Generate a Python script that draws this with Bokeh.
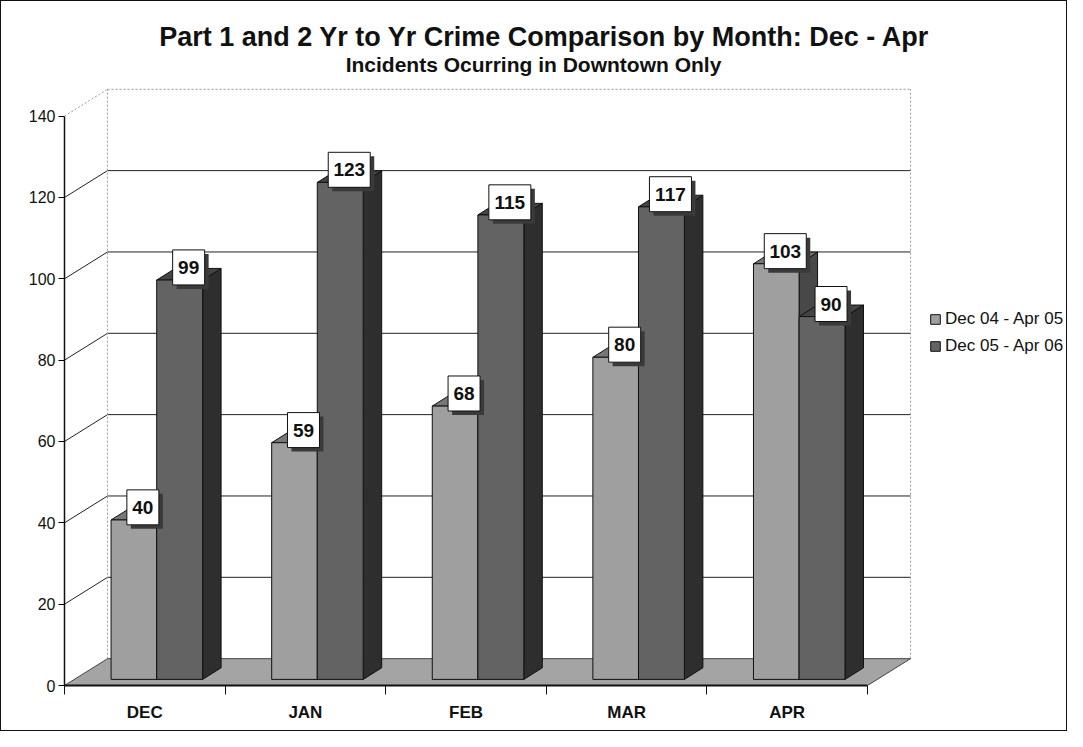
from bokeh.plotting import figure
from bokeh.models import FixedTicker, Legend, LegendItem, ColumnDataSource, Range1d
from bokeh.embed import file_html
from bokeh.resources import INLINE
from bokeh.core.properties import value

# ---- data ----
months = ["DEC", "JAN", "FEB", "MAR", "APR"]
series_names = ["Dec 04 - Apr 05", "Dec 05 - Apr 06"]
prev_year = [40, 59, 68, 80, 103]
curr_year = [99, 123, 115, 117, 90]
y_ticks = [0, 20, 40, 60, 80, 100, 120, 140]
title_text = "Part 1 and 2 Yr to Yr Crime Comparison by Month:  Dec - Apr"
subtitle_text = "Incidents Ocurring in Downtown Only"

# ---- style / geometry constants ----
FONT = "Liberation Sans"
W, H = 1067, 731
LEFT, BOTTOM, RIGHT = 63, 47, 2
PXX = 160.6                      # px per category
PXY = 4.067                      # px per incident
FRAME_W = W - LEFT - RIGHT
FRAME_H = H - BOTTOM
XMAX = FRAME_W / PXX
YMAX = FRAME_H / PXY
DX, DY = 0.268, 6.6              # depth of the 3D box (x units, y units)
BDX, BDY = 0.115, 2.85           # depth of a bar
BASE, TOPOFF = 1.5, 0.7
L_OFF, M_OFF, R_OFF = -0.21, 0.074, 0.36
LIGHT, LIGHT_TOP, LIGHT_SIDE = "#9f9f9f", "#777777", "#484848"
DARK, DARK_TOP, DARK_SIDE = "#636363", "#444444", "#2e2e2e"
FLOOR = "#a4a4a4"
INK = "#111111"
n = len(months)

p = figure(width=W, height=H, output_backend="svg", toolbar_location=None,
           x_range=Range1d(0, XMAX), y_range=Range1d(0, YMAX),
           min_border_left=LEFT, min_border_right=RIGHT, min_border_top=0,
           min_border_bottom=BOTTOM)
p.styles = {"border": "1px solid #111"}
p.outline_line_color = None
p.xgrid.visible = False
p.ygrid.visible = False
p.background_fill_color = "white"

# ---- back wall, side gridlines ----
wall_right = n + DX
grid_vals = [v for v in y_ticks if 0 < v < max(y_ticks)]
p.segment(x0=[DX] * len(grid_vals), y0=[v + DY for v in grid_vals],
          x1=[wall_right] * len(grid_vals), y1=[v + DY for v in grid_vals],
          line_color="#222222", line_width=1)
p.segment(x0=[0] * len(grid_vals), y0=grid_vals,
          x1=[DX] * len(grid_vals), y1=[v + DY for v in grid_vals],
          line_color="#222222", line_width=1)
top = max(y_ticks)
p.segment(x0=[0, DX, DX, wall_right], y0=[top, top + DY, DY, DY],
          x1=[DX, wall_right, DX, wall_right], y1=[top + DY, top + DY, top + DY, top + DY],
          line_color="#9a9a9a", line_width=1, line_dash="2 2")

# ---- floor ----
p.patch(x=[0, n, n + DX, DX], y=[0, 0, DY, DY], fill_color=FLOOR,
        line_color="#444444", line_width=1)

# ---- bars ----
centers = [i + 0.5 for i in range(n)]

def bar_geom(vals, loff, roff):
    l = [c + loff for c in centers]
    r = [c + roff for c in centers]
    t = [v + TOPOFF for v in vals]
    b = [BASE] * len(vals)
    tops_x = [[a, z, z + BDX, a + BDX] for a, z in zip(l, r)]
    tops_y = [[tt, tt, tt + BDY, tt + BDY] for tt in t]
    side_x = [[z, z + BDX, z + BDX, z] for z in r]
    side_y = [[bb, bb + BDY, tt + BDY, tt] for bb, tt in zip(b, t)]
    return l, r, t, b, tops_x, tops_y, side_x, side_y

renderers = []
for vals, loff, roff, cf, ct, cs in [(prev_year, L_OFF, M_OFF, LIGHT, LIGHT_TOP, LIGHT_SIDE),
                                      (curr_year, M_OFF, R_OFF, DARK, DARK_TOP, DARK_SIDE)]:
    l, r, t, b, tx, ty, sx, sy = bar_geom(vals, loff, roff)
    p.patches(xs=sx, ys=sy, fill_color=cs, line_color=INK, line_width=1)
    p.patches(xs=tx, ys=ty, fill_color=ct, line_color=INK, line_width=1)
    rr = p.quad(left=l, right=r, top=t, bottom=b, fill_color=cf,
                line_color=INK, line_width=1)
    renderers.append(rr)

# ---- value labels ----
lab_x, lab_y, lab_t, lab_w = [], [], [], []
for vals, loff, roff in [(prev_year, L_OFF, M_OFF), (curr_year, M_OFF, R_OFF)]:
    for c, v in zip(centers, vals):
        lab_x.append(c + (loff + roff) / 2 + 0.056)
        lab_y.append(v + TOPOFF + 3.1)
        lab_t.append(str(v))
        lab_w.append(12 + 10 * len(str(v)))
src = ColumnDataSource(dict(x=lab_x, y=lab_y, t=lab_t, w=lab_w,
                            sx=[x + 4 / PXX for x in lab_x],
                            sy=[y - 4 / PXY for y in lab_y]))
p.rect(x="sx", y="sy", width="w", height=35, width_units="screen", height_units="screen",
       fill_color="#3a3a3a", line_color=None, source=src)
p.rect(x="x", y="y", width="w", height=35, width_units="screen", height_units="screen",
       fill_color="white", line_color=INK, line_width=1, source=src)
p.text(x="x", y="y", text="t", source=src, text_align="center", text_baseline="middle",
       text_font=value(FONT), text_font_style="bold", text_font_size="19px",
       text_color=INK)

# ---- titles (inside the frame, above the chart) ----
p.text(x=[(547 - LEFT) / PXX], y=[(684 - 35) / PXY], text=[title_text], text_align="center",
       text_baseline="middle", text_font=value(FONT), text_font_style="bold",
       text_font_size="27px", text_color=INK)
p.text(x=[(532 - LEFT) / PXX], y=[(684 - 63) / PXY], text=[subtitle_text], text_align="center",
       text_baseline="middle", text_font=value(FONT), text_font_style="bold",
       text_font_size="21px", text_color=INK)

# ---- axes ----
p.yaxis.ticker = FixedTicker(ticks=y_ticks)
p.yaxis.bounds = (0, max(y_ticks))
p.yaxis.axis_line_color = INK
p.yaxis.axis_line_width = 1.5
p.yaxis.major_tick_out = 6
p.yaxis.major_tick_in = 0
p.yaxis.minor_tick_line_color = None
p.yaxis.major_label_standoff = 3
p.yaxis.major_label_text_font = FONT
p.yaxis.major_label_text_font_size = "16px"
p.yaxis.major_label_text_color = INK

p.xaxis.ticker = FixedTicker(ticks=centers, minor_ticks=list(range(n + 1)))
p.xaxis.major_label_overrides = {c: m for c, m in zip(centers, months)}
p.xaxis.bounds = (0, n)
p.xaxis.axis_line_color = INK
p.xaxis.axis_line_width = 2
p.xaxis.major_tick_out = 0
p.xaxis.major_tick_in = 0
p.xaxis.minor_tick_out = 9
p.xaxis.minor_tick_in = 0
p.xaxis.minor_tick_line_color = INK
p.xaxis.major_label_standoff = 8
p.xaxis.major_label_text_font = FONT
p.xaxis.major_label_text_font_style = "bold"
p.xaxis.major_label_text_font_size = "17px"
p.xaxis.major_label_text_color = INK

# ---- legend ----
legend = Legend(items=[LegendItem(label=series_names[0], renderers=[renderers[0]]),
                       LegendItem(label=series_names[1], renderers=[renderers[1]])],
                location=(865, 329), border_line_color=None, background_fill_alpha=0,
                padding=0, margin=0, spacing=7, glyph_width=12, glyph_height=12,
                label_standoff=4, label_height=20, label_text_font=FONT,
                label_text_font_size="17px", label_text_color=INK)
p.add_layout(legend)

open("out.html", "w").write(file_html(p, INLINE))
